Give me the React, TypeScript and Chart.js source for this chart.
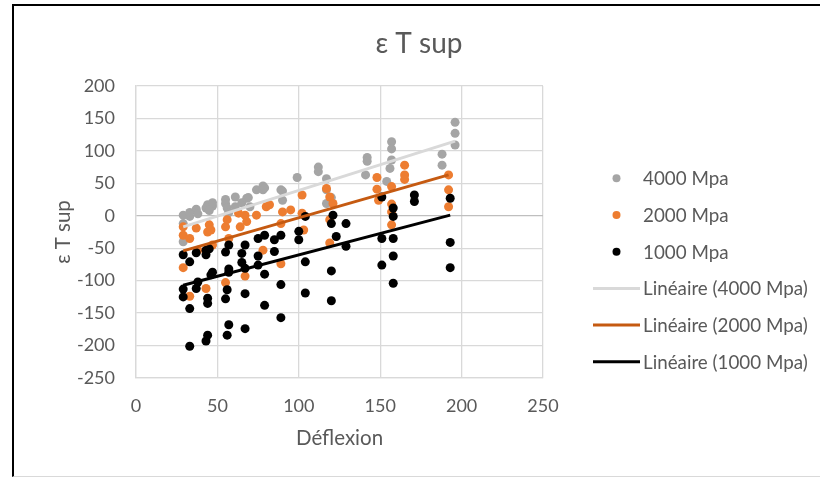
import React, { useEffect, useRef } from 'react';
import { Chart, registerables } from 'chart.js';

Chart.register(...registerables);

const TITLE = 'ε T sup';
const X_TITLE = 'Déflexion';
const Y_TITLE = 'ε T sup';
const SERIES_LABELS = ['4000 Mpa', '2000 Mpa', '1000 Mpa'];
const TREND_LABELS = ['Linéaire (4000 Mpa)', 'Linéaire (2000 Mpa)', 'Linéaire (1000 Mpa)'];

const X_MIN = 0, X_MAX = 250, X_STEP = 50;
const Y_MIN = -250, Y_MAX = 200, Y_STEP = 50;

const X_4000 = [29, 29, 29, 33, 33, 37, 38, 43, 44, 45, 47, 47, 55, 55, 56, 57, 61, 61, 65, 68, 69, 70, 74, 78, 78, 79, 89, 90, 90, 99, 112, 112, 117, 117, 117, 120, 141, 142, 142, 157, 157, 157, 156, 154, 188, 188, 196, 196, 196];
const Y_4000 = [1, -12, -40, -1, 5, 10, 3, 12, 17, 8, 15, 20, 25, 19, 12, 5, 29, 14, 20, 27, 28, 14, 40, 46, 40, 43, 40, 24, 38, 59, 75, 68, 57, 40, 19, 28, 63, 90, 84, 114, 103, 86, 73, 53, 95, 78, 144, 127, 109];

const X_2000 = [29, 29, 29, 33, 33, 37, 38, 43, 44, 45, 46, 47, 55, 55, 56, 57, 63, 64, 67, 67, 68, 74, 78, 80, 82, 89, 89, 90, 95, 102, 102, 103, 117, 119, 121, 119, 119, 148, 148, 149, 157, 157, 157, 157, 165, 165, 165, 192, 192, 192];
const Y_2000 = [-17, -30, -80, -124, -35, -19, -53, -112, -25, -14, -22, -45, -103, -17, -6, -35, 4, -17, -93, 1, -9, 1, -53, 14, 17, -74, -12, 6, 9, 32, 4, -22, 42, 29, 19, -6, -42, 59, 41, 24, 45, 18, 6, -14, 78, 63, 56, 63, 40, 14];

const X_1000 = [29, 29, 29, 33, 33, 33, 37, 38, 37, 43, 43, 44, 44, 43, 44, 45, 46, 47, 55, 56, 55, 56, 57, 57, 57, 57, 65, 65, 67, 67, 67, 67, 75, 75, 75, 79, 79, 79, 85, 85, 89, 89, 89, 100, 100, 104, 104, 104, 120, 120, 120, 121, 123, 129, 129, 151, 151, 151, 158, 158, 158, 158, 158, 171, 171, 193, 193, 193];
const Y_1000 = [-60, -113, -125, -71, -143, -201, -57, -102, -112, -53, -60, -127, -135, -193, -184, -51, -91, -87, -56, -114, -128, -184, -168, -45, -82, -87, -58, -72, -45, -81, -120, -174, -35, -62, -76, -30, -90, -138, -37, -55, -30, -106, -157, -24, -37, -1, -71, -119, -12, -85, -131, 1, -32, -12, -47, 29, -35, -76, 12, -1, -35, -62, -104, 32, 22, 27, -41, -80];

const TREND_X_4000 = [29, 196];
const TREND_Y_4000 = [-17, 115];
const TREND_X_2000 = [29, 192];
const TREND_Y_2000 = [-54, 63];
const TREND_X_1000 = [29, 193];
const TREND_Y_1000 = [-107, 1];

const FONT = 'Lato, "Open Sans", sans-serif';
const TEXT_COLOR = '#595959';
const GRID_COLOR = '#d9d9d9';

const toPts = (xs: number[], ys: number[]) => xs.map((x, i) => ({ x, y: ys[i] }));

const overlayPlugin = {
  id: 'overlay',
  afterDraw(chart: any) {
    const ctx = chart.ctx;
    ctx.save();
    ctx.fillStyle = TEXT_COLOR;
    ctx.font = `28px ${FONT}`;
    ctx.textAlign = 'center';
    ctx.textBaseline = 'middle';
    ctx.fillText(TITLE, 419, 44);

    ctx.font = `18.8px ${FONT}`;
    ctx.textAlign = 'left';
    chart.data.datasets.forEach((ds: any, i: number) => {
      const y = 178.3 + i * 36.7;
      if (ds.type === 'line') {
        ctx.strokeStyle = ds.borderColor;
        ctx.lineWidth = 3;
        ctx.beginPath();
        ctx.moveTo(593, y);
        ctx.lineTo(640, y);
        ctx.stroke();
      } else {
        ctx.fillStyle = ds.backgroundColor;
        ctx.beginPath();
        ctx.arc(616.5, y, 4, 0, Math.PI * 2);
        ctx.fill();
      }
      ctx.fillStyle = TEXT_COLOR;
      ctx.fillText(ds.label, 643, y + 1);
    });
    ctx.restore();
  },
};

export default function App() {
  const ref = useRef<HTMLCanvasElement | null>(null);

  useEffect(() => {
    if (!ref.current) return;
    const pointColors = ['#a5a5a5', '#ed7d31', '#000000'];
    const trendColors = ['#d9d9d9', '#c55a11', '#000000'];
    const series = [toPts(X_4000, Y_4000), toPts(X_2000, Y_2000), toPts(X_1000, Y_1000)];
    const trends = [toPts(TREND_X_4000, TREND_Y_4000), toPts(TREND_X_2000, TREND_Y_2000), toPts(TREND_X_1000, TREND_Y_1000)];

    const datasets: any[] = [];
    series.forEach((d, i) => {
      datasets.push({
        type: 'scatter',
        label: SERIES_LABELS[i],
        data: d,
        backgroundColor: pointColors[i],
        borderColor: pointColors[i],
        borderWidth: 0,
        pointRadius: 4.5,
        order: 3 - i,
      });
    });
    trends.forEach((d, i) => {
      datasets.push({
        type: 'line',
        label: TREND_LABELS[i],
        data: d,
        borderColor: trendColors[i],
        backgroundColor: trendColors[i],
        borderWidth: 3,
        pointRadius: 0,
        fill: false,
        tension: 0,
        order: 0,
      });
    });

    const tickFont = { family: FONT, size: 18 };
    const titleFont = { family: FONT, size: 20.5 };

    const chart = new Chart(ref.current, {
      type: 'scatter',
      data: { datasets },
      options: {
        animation: false,
        responsive: false,
        events: [],
        layout: { padding: { left: 40, right: 277, top: 86, bottom: 0 } },
        plugins: {
          legend: { display: false },
          title: { display: false },
          tooltip: { enabled: false },
        },
        scales: {
          x: {
            type: 'linear',
            min: X_MIN,
            max: X_MAX,
            ticks: { stepSize: X_STEP, color: TEXT_COLOR, font: tickFont, padding: 17, maxRotation: 0 },
            grid: { color: GRID_COLOR, lineWidth: 1.3, drawTicks: false },
            border: { color: GRID_COLOR, width: 1.3 },
            title: { display: true, text: X_TITLE, color: TEXT_COLOR, font: titleFont, padding: { top: 0, bottom: 26.7 } },
            afterFit: (s: any) => { s.height = 99; },
          },
          y: {
            type: 'linear',
            min: Y_MIN,
            max: Y_MAX,
            ticks: { stepSize: Y_STEP, color: TEXT_COLOR, font: tickFont, padding: 21 },
            grid: {
              color: (c: any) => (c.tick && c.tick.value === 0 ? '#bfbfbf' : GRID_COLOR),
              lineWidth: 1.3,
              drawTicks: false,
            },
            border: { color: GRID_COLOR, width: 1.3 },
            title: { display: true, text: Y_TITLE, color: TEXT_COLOR, font: titleFont, padding: { top: 10.7, bottom: 0 } },
            afterFit: (s: any) => { s.width = 96; },
          },
        },
      },
      plugins: [overlayPlugin],
    } as any);

    return () => chart.destroy();
  }, []);

  return (
    <div style={{ position: 'fixed', left: 0, top: 0, width: 820, height: 477, background: '#ffffff', overflow: 'hidden' }}>
      <div
        style={{
          position: 'absolute',
          left: 12,
          top: 4,
          width: 808,
          height: 473,
          boxSizing: 'border-box',
          borderLeft: '2px solid #000',
          borderTop: '2px solid #000',
          borderBottom: '1px solid #d9d9d9',
        }}
      />
      <canvas ref={ref} width={820} height={477} style={{ position: 'absolute', left: 0, top: 0, width: 820, height: 477 }} />
    </div>
  );
}
